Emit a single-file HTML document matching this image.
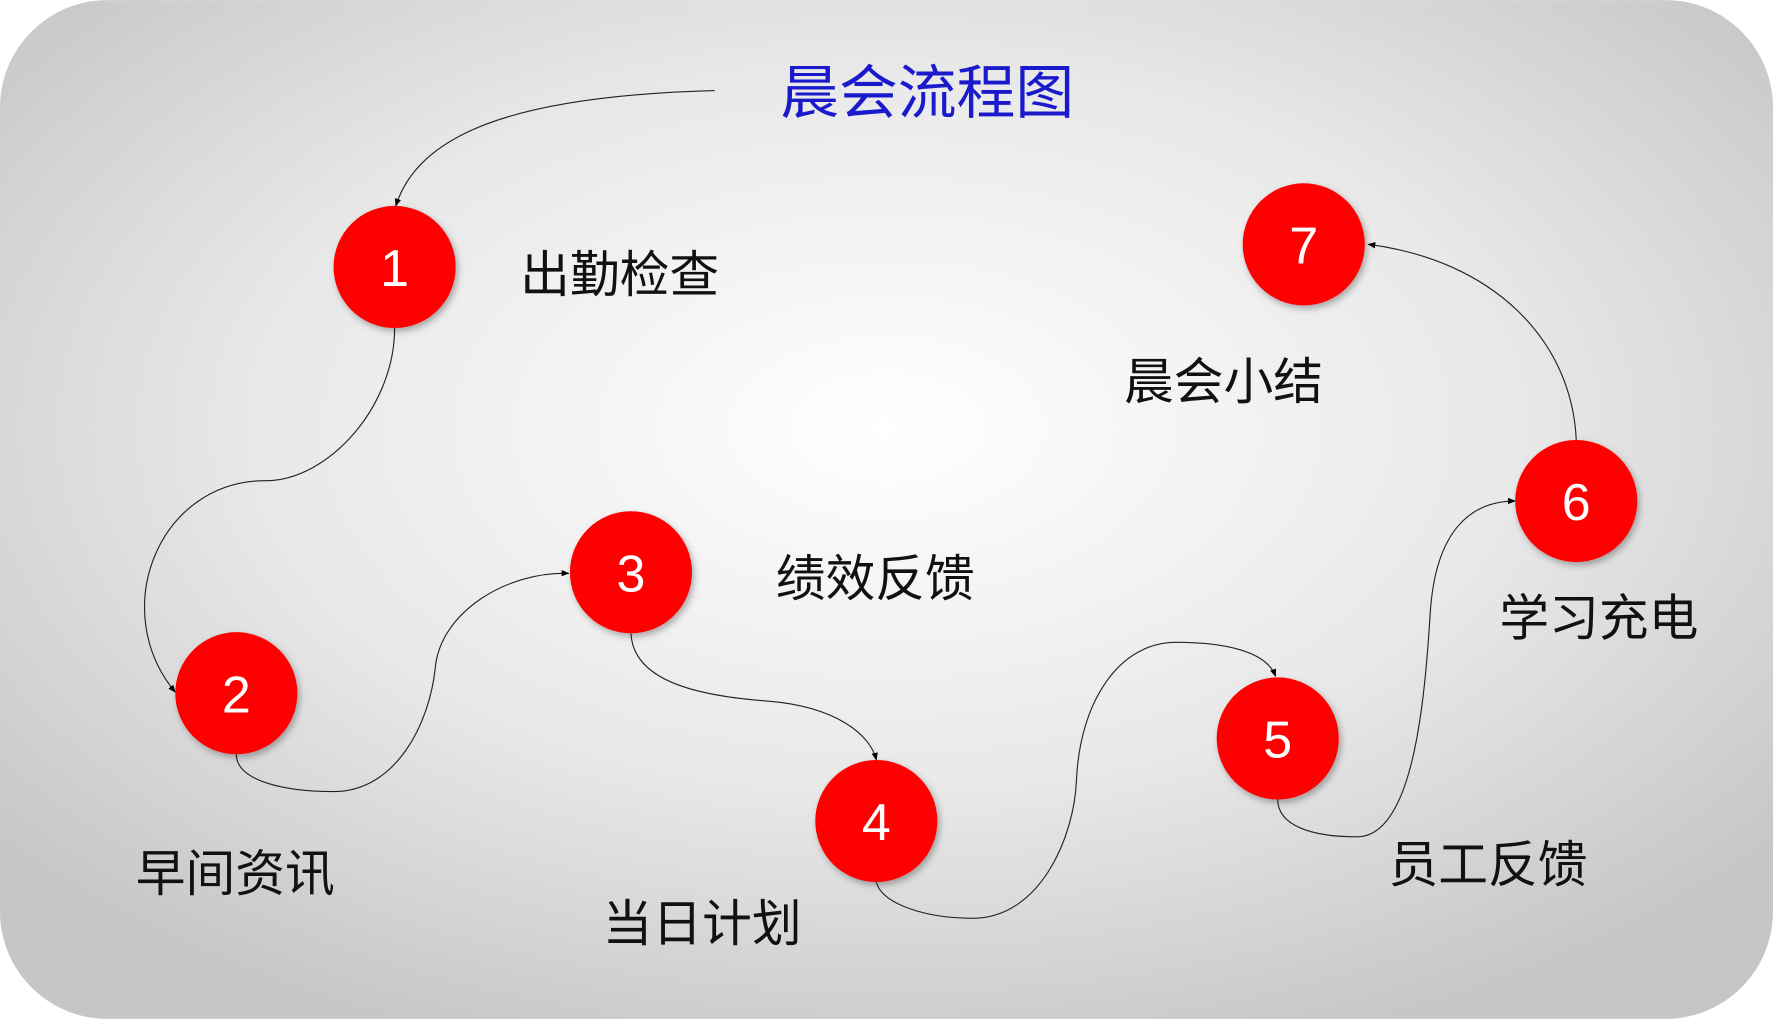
<!DOCTYPE html>
<html><head><meta charset="utf-8"><style>
html,body{margin:0;padding:0;background:#fff;}
svg{display:block;}
text{font-family:"Liberation Sans","Noto Sans CJK SC",sans-serif;}
</style></head><body>
<svg width="1773" height="1019" viewBox="0 0 1568 901" xmlns="http://www.w3.org/2000/svg">
<defs>
<radialGradient id="bg" cx="50%" cy="42%" r="65%">
<stop offset="0" stop-color="#ffffff"/>
<stop offset="0.55" stop-color="#e8e8e8"/>
<stop offset="1" stop-color="#c6c6c6"/>
</radialGradient>
<marker id="ar" viewBox="0 0 10 10" refX="9" refY="5" markerWidth="7" markerHeight="7" orient="auto">
<path d="M0,1 L10,5 L0,9 z" fill="#000"/>
</marker>
<filter id="sh" x="-20%" y="-20%" width="150%" height="150%">
<feDropShadow dx="2" dy="3" stdDeviation="3" flood-color="#000" flood-opacity="0.3"/>
</filter>
</defs>
<rect x="0" y="0" width="1568" height="901" rx="95" ry="95" fill="url(#bg)"/>
<g fill="none" stroke="#222" stroke-width="1" marker-end="url(#ar)">
<path d="M632,80 C450,85 370,120 350,182"/>
<path d="M349,290 C349,360 290,425 235,425 C140,425 95,540 155,612"/>
<path d="M209,667 C209,690 250,700 295,700 C350,700 380,640 385,590 C390,540 450,505 503,507"/>
<path d="M558,560 C560,600 610,615 680,620 C740,625 770,650 775,672"/>
<path d="M775,780 C780,800 820,812 860,812 C920,812 950,740 952,690 C955,620 990,568 1040,568 C1080,568 1120,575 1128,598"/>
<path d="M1130,707 C1130,730 1160,740 1200,740 C1250,740 1260,620 1265,540 C1270,470 1300,443 1340,443"/>
<path d="M1394,389 C1390,300 1320,230 1210,216"/>
</g>
<g fill="#ff0000" filter="url(#sh)">
<circle cx="349" cy="236" r="54"/>
<circle cx="209" cy="613" r="54"/>
<circle cx="558" cy="506" r="54"/>
<circle cx="775" cy="726" r="54"/>
<circle cx="1130" cy="653" r="54"/>
<circle cx="1394" cy="443" r="54"/>
<circle cx="1153" cy="216" r="54"/>
</g>
<g fill="#fff" font-size="46" text-anchor="middle">
<text x="349" y="253">1</text>
<text x="209" y="630">2</text>
<text x="558" y="523">3</text>
<text x="775" y="743">4</text>
<text x="1130" y="670">5</text>
<text x="1394" y="460">6</text>
<text x="1153" y="233">7</text>
</g>
<text x="690" y="100" font-size="52" fill="#1a1acc">晨会流程图</text>
<g font-size="44" fill="#111">
<text x="460" y="258">出勤检查</text>
<text x="120" y="788">早间资讯</text>
<text x="686" y="527">绩效反馈</text>
<text x="533" y="832">当日计划</text>
<text x="1228" y="780">员工反馈</text>
<text x="1326" y="562">学习充电</text>
<text x="994" y="353">晨会小结</text>
</g>
</svg>
</body></html>
